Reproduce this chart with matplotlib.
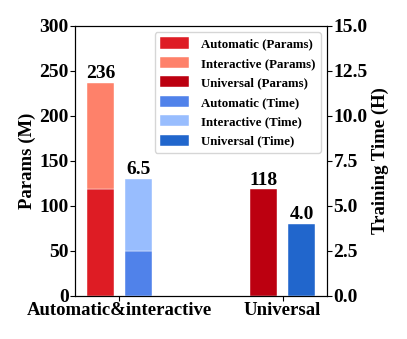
import numpy as np
import matplotlib
matplotlib.use('Agg')
import matplotlib.pyplot as plt

plt.rcParams['font.family'] = ['Liberation Serif', 'DejaVu Serif']
plt.rcParams['font.weight'] = 'bold'

groups = ['Automatic&interactive', 'Universal']
auto_params = [118, 0]
inter_params = [118, 0]
univ_params = [0, 118]
auto_time = [2.5, 0]
inter_time = [4.0, 0]
univ_time = [0, 4.0]
param_labels = ['236', '118']
time_labels = ['6.5', '4.0']

c_auto_p, c_inter_p, c_univ_p = '#de1c24', '#fe816a', '#bc0010'
c_auto_t, c_inter_t, c_univ_t = '#5082ea', '#98bdfe', '#2166cc'

fig = plt.figure(figsize=(4.07, 3.39), dpi=100)
ax = fig.add_axes([0.184, 0.128, 0.62, 0.796])
ax2 = ax.twinx()

x = np.arange(len(groups))
w = 0.166
off = 0.117

p_tot = np.array(auto_params) + np.array(inter_params) + np.array(univ_params)
t_tot = np.array(auto_time) + np.array(inter_time) + np.array(univ_time)

h1 = ax.bar(x[:1] - off, auto_params[:1], w, color=c_auto_p, edgecolor='white', linewidth=0.3)
h2 = ax.bar(x[:1] - off, inter_params[:1], w, bottom=auto_params[:1], color=c_inter_p, edgecolor='white', linewidth=0.3)
h3 = ax.bar(x[1:] - off, univ_params[1:], w, color=c_univ_p, edgecolor='white', linewidth=0.3)
h4 = ax2.bar(x[:1] + off, auto_time[:1], w, color=c_auto_t, edgecolor='white', linewidth=0.3)
h5 = ax2.bar(x[:1] + off, inter_time[:1], w, bottom=auto_time[:1], color=c_inter_t, edgecolor='white', linewidth=0.3)
h6 = ax2.bar(x[1:] + off, univ_time[1:], w, color=c_univ_t, edgecolor='white', linewidth=0.3)

for i in range(len(groups)):
    ax.text(x[i] - off, p_tot[i] + 1.0, param_labels[i], ha='center', va='bottom',
            fontsize=14, fontweight='bold')
    ax2.text(x[i] + off, t_tot[i] + 0.05, time_labels[i], ha='center', va='bottom',
             fontsize=14, fontweight='bold')

ax.set_xlim(-0.273, 1.273)
ax.set_ylim(0, 300)
ax2.set_ylim(0, 15)
ax.set_yticks(np.arange(0, 301, 50))
ax2.set_yticks(np.arange(0, 15.1, 2.5))
ax2.set_yticklabels(['%.1f' % v for v in np.arange(0, 15.1, 2.5)])
ax.set_xticks(x)
ax.set_xticklabels(groups)

ax.tick_params(axis='y', labelsize=14, pad=1)
ax.tick_params(axis='x', labelsize=13.5, pad=1)
ax2.tick_params(labelsize=14, pad=1)
ax.set_ylabel('Params (M)', fontsize=13.5, fontweight='bold', labelpad=2)
ax2.set_ylabel('Training Time (H)', fontsize=13.5, fontweight='bold', labelpad=3)

ax.legend([h1, h2, h3, h4, h5, h6],
          ['Automatic (Params)', 'Interactive (Params)', 'Universal (Params)',
           'Automatic (Time)', 'Interactive (Time)', 'Universal (Time)'],
          loc='upper right', fontsize=9.3, handlelength=2.3, handleheight=0.95,
          borderaxespad=0.5, labelspacing=0.5, handletextpad=0.9)

fig.savefig('out.png', dpi=100)
